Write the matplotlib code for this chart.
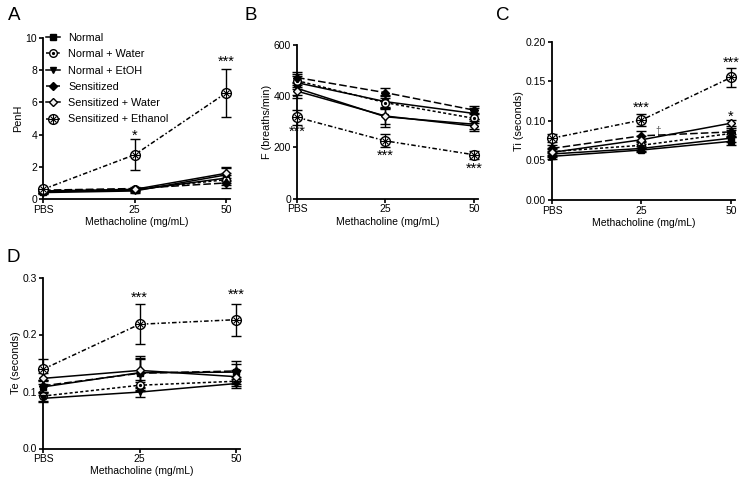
import matplotlib
matplotlib.use("Agg")
import matplotlib.pyplot as plt
from matplotlib.legend_handler import HandlerTuple

plt.rcParams['font.family'] = ['Liberation Sans', 'DejaVu Sans']

doses = [0, 25, 50]
dose_labels = ['PBS', '25', '50']
groups = ['Normal', 'Normal + Water', 'Normal + EtOH', 'Sensitized',
          'Sensitized + Water', 'Sensitized + Ethanol']

# Panel A: PenH
penh_mean = [[0.45, 0.55, 1.30], [0.50, 0.60, 1.20], [0.40, 0.50, 1.50],
             [0.55, 0.65, 1.00], [0.50, 0.60, 1.60], [0.60, 2.75, 6.60]]
penh_err = [[0.10, 0.10, 0.30], [0.10, 0.10, 0.30], [0.10, 0.10, 0.40],
            [0.10, 0.10, 0.30], [0.10, 0.10, 0.40], [0.10, 0.95, 1.50]]
# Panel B: F (breaths/min)
f_mean = [[452, 378, 332], [460, 374, 313], [430, 319, 290],
          [472, 413, 345], [419, 322, 283], [317, 225, 171]]
f_err = [[25, 25, 20], [25, 25, 20], [25, 40, 20],
         [20, 20, 15], [25, 30, 20], [30, 25, 15]]
# Panel C: Ti (seconds)
ti_mean = [[0.055, 0.063, 0.074], [0.061, 0.069, 0.084], [0.058, 0.065, 0.078],
           [0.065, 0.081, 0.086], [0.060, 0.076, 0.097], [0.078, 0.101, 0.155]]
ti_err = [[0.004, 0.003, 0.005], [0.004, 0.004, 0.005], [0.004, 0.003, 0.005],
          [0.004, 0.006, 0.005], [0.004, 0.005, 0.004], [0.005, 0.008, 0.012]]
# Panel D: Te (seconds)
te_mean = [[0.108, 0.133, 0.134], [0.092, 0.111, 0.118], [0.088, 0.099, 0.114],
           [0.110, 0.132, 0.136], [0.123, 0.137, 0.126], [0.139, 0.218, 0.226]]
te_err = [[0.010, 0.025, 0.015], [0.008, 0.010, 0.008], [0.006, 0.008, 0.008],
          [0.010, 0.030, 0.018], [0.010, 0.020, 0.012], [0.018, 0.035, 0.028]]

styles = [
    dict(ls='-', marker='s', mfc='black', ms=4.5),
    dict(ls=(0, (2, 1.5)), marker='o', mfc='white', ms=5.5),
    dict(ls='-', marker='v', mfc='black', ms=5),
    dict(ls=(0, (5, 2)), marker='D', mfc='black', ms=4),
    dict(ls='-', marker='D', mfc='#f2f2f2', ms=4.5),
    dict(ls=(0, (3, 1.5, 1, 1.5)), marker='o', mfc='white', ms=7),
]
overlay = [None, dict(marker='.', ms=3), None, None, None, dict(marker='+', ms=7)]
overlay2 = [None, None, None, None, None, dict(marker='x', ms=5)]

W, H = 739, 480
fig = plt.figure(figsize=(W / 100, H / 100), dpi=100)


def rect(l, r, t, b):
    return [l / W, 1 - b / H, (r - l) / W, (b - t) / H]


def panel(r, means, errs, ylim, yticks, yticklabels, ylabel, lp):
    ax = fig.add_axes(r)
    handles = []
    for i in range(6):
        st = styles[i]
        ax.errorbar(doses, means[i], yerr=errs[i], fmt='none', ecolor='black',
                    elinewidth=1.0, capsize=3.5, capthick=1.0, clip_on=False, zorder=2)
        ln, = ax.plot(doses, means[i], color='black', lw=1.1, ls=st['ls'],
                      marker=st['marker'], mfc=st['mfc'], mec='black', mew=1.0,
                      ms=st['ms'], clip_on=False, zorder=3 + i)
        parts = [ln]
        for ov in (overlay[i], overlay2[i]):
            if ov:
                o, = ax.plot(doses, means[i], ls='none', color='black', mew=0.8,
                             clip_on=False, zorder=3 + i, **ov)
                parts.append(o)
        handles.append(tuple(parts))
    ax.set_xlim(0, 51)
    ax.set_ylim(*ylim)
    ax.set_xticks(doses)
    ax.set_xticklabels(dose_labels)
    ax.set_yticks(yticks)
    ax.set_yticklabels(yticklabels)
    for s in ('top', 'right'):
        ax.spines[s].set_visible(False)
    for s in ('left', 'bottom'):
        ax.spines[s].set_linewidth(1.3)
    ax.tick_params(direction='out', length=3, width=1.2, labelsize=7.5, pad=1.2)
    ax.set_xlabel('Methacholine (mg/mL)', fontsize=7.5, labelpad=1.5)
    ax.set_ylabel(ylabel, fontsize=7.8, labelpad=lp)
    return ax, handles


axA, handles = panel(rect(43, 230, 38, 199), penh_mean, penh_err, (0, 10),
                     [0, 2, 4, 6, 8, 10], ['0', '2', '4', '6', '8', '10'], 'PenH', 1.5)
axB, _ = panel(rect(297, 477.5, 44.7, 198.6), f_mean, f_err, (0, 600),
               [0, 200, 400, 600], ['0', '200', '400', '600'], 'F (breaths/min)', 1.5)
axC, _ = panel(rect(552, 734.5, 42, 199.7), ti_mean, ti_err, (0, 0.2),
               [0, 0.05, 0.10, 0.15, 0.20], ['0.00', '0.05', '0.10', '0.15', '0.20'],
               'Ti (seconds)', 1.5)
axD, _ = panel(rect(43, 240, 277.5, 448.5), te_mean, te_err, (0, 0.3),
               [0, 0.1, 0.2, 0.3], ['0.0', '0.1', '0.2', '0.3'], 'Te (seconds)', 1.5)

leg = axA.legend(handles, groups, handler_map={tuple: HandlerTuple(ndivide=1)},
                 loc='upper left', bbox_to_anchor=(46 / W, 1 - 33 / H),
                 bbox_transform=fig.transFigure, frameon=False, fontsize=7.8,
                 handlelength=1.3, handletextpad=0.75, labelspacing=0.58,
                 borderpad=0, borderaxespad=0)

kw = dict(ha='center', va='center', fontsize=10.5)
axA.text(25, 3.95, '*', **kw)
axA.text(50, 8.5, '***', **kw)
axB.text(0, 260, '***', **kw)
axB.text(25, 166, '***', **kw)
axB.text(50, 118, '***', **kw)
axC.text(25, 0.116, '***', **kw)
axC.text(50, 0.174, '***', **kw)
axC.text(50, 0.105, '*', **kw)
axC.text(29.5, 0.0865, '\u2020', ha='center', va='center', fontsize=7, color='#555555')
axD.text(25, 0.265, '***', **kw)
axD.text(50, 0.269, '***', **kw)

for lab, x, y in [('A', 14, 15), ('B', 251, 15), ('C', 503, 15), ('D', 13, 258)]:
    fig.text(x / W, 1 - y / H, lab, fontsize=13.5, ha='center', va='center')

fig.savefig('out.png', dpi=100)
